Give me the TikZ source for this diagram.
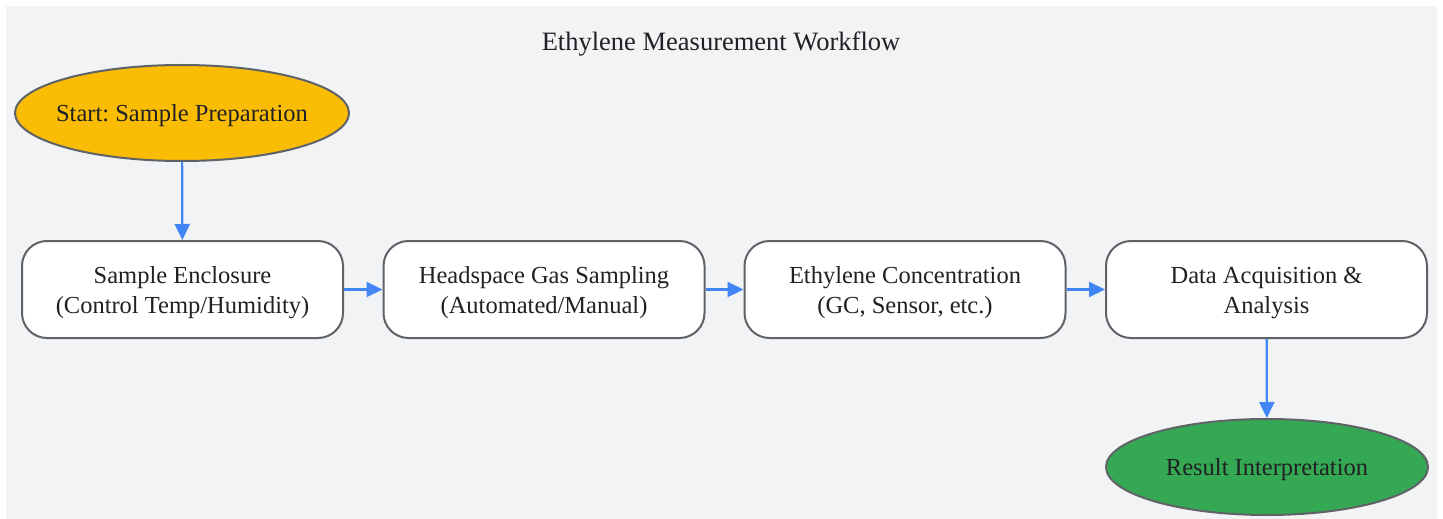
\documentclass[tikz,border=0pt]{standalone}
\usepackage{fontspec}
\setmainfont{Liberation Serif}
\frenchspacing
\usetikzlibrary{shapes.geometric,arrows.meta}
\definecolor{bgc}{HTML}{F1F3F4}
\definecolor{edgec}{HTML}{5F6368}
\definecolor{arrc}{HTML}{4285F4}
\definecolor{startc}{HTML}{FBBC04}
\definecolor{endc}{HTML}{34A853}
\definecolor{txtc}{HTML}{202124}
\newcommand{\twoline}[2]{\raisebox{-3pt}[\height][\depth]{\begin{tabular}{@{}c@{}}#1\\#2\end{tabular}}}
\newcommand{\oneline}[1]{\raisebox{-3pt}[\height][\depth]{#1}}
\tikzset{
  procbox/.style={draw=edgec, line width=2pt, fill=white, rounded corners=25pt,
    minimum width=321pt, minimum height=97pt, align=center, text=txtc,
    font=\fontsize{24.5}{30}\selectfont, inner sep=0pt},
  termnode/.style={draw=edgec, line width=2pt, ellipse, minimum width=334pt, minimum height=96pt,
    text=txtc, font=\fontsize{24.5}{30}\selectfont, inner xsep=-70pt, inner ysep=0pt},
  flow/.style={draw=arrc, line width=2.2pt, -{Triangle[length=16pt,width=15pt]}},
}
\begin{document}
\begin{tikzpicture}[x=1pt,y=-1pt]
\useasboundingbox (0,0) rectangle (1443,519);
\fill[bgc] (6,6) rectangle (1437,519);
\node[text=txtc, font=\fontsize{26.5}{30}\selectfont] (title) at (721,44) {Ethylene Measurement Workflow};
\node[termnode, fill=startc] (start) at (182,113) {\oneline{Start: Sample Preparation}};
\node[procbox] (b1) at (182.5,289.5) {\twoline{Sample Enclosure}{(Control Temp/Humidity)}};
\node[procbox] (b2) at (544,289.5) {\twoline{Headspace Gas Sampling}{(Automated/Manual)}};
\node[procbox] (b3) at (905,289.5) {\twoline{Ethylene Concentration}{(GC, Sensor, etc.)}};
\node[procbox] (b4) at (1266.5,289.5) {\twoline{Data Acquisition \&}{Analysis}};
\node[termnode, fill=endc, minimum width=322pt] (end) at (1267,467) {\oneline{Result Interpretation}};
\draw[flow] (start) -- (b1);
\draw[flow] (b1) -- (b2);
\draw[flow] (b2) -- (b3);
\draw[flow] (b3) -- (b4);
\draw[flow] (b4) -- (end);
\end{tikzpicture}
\end{document}
